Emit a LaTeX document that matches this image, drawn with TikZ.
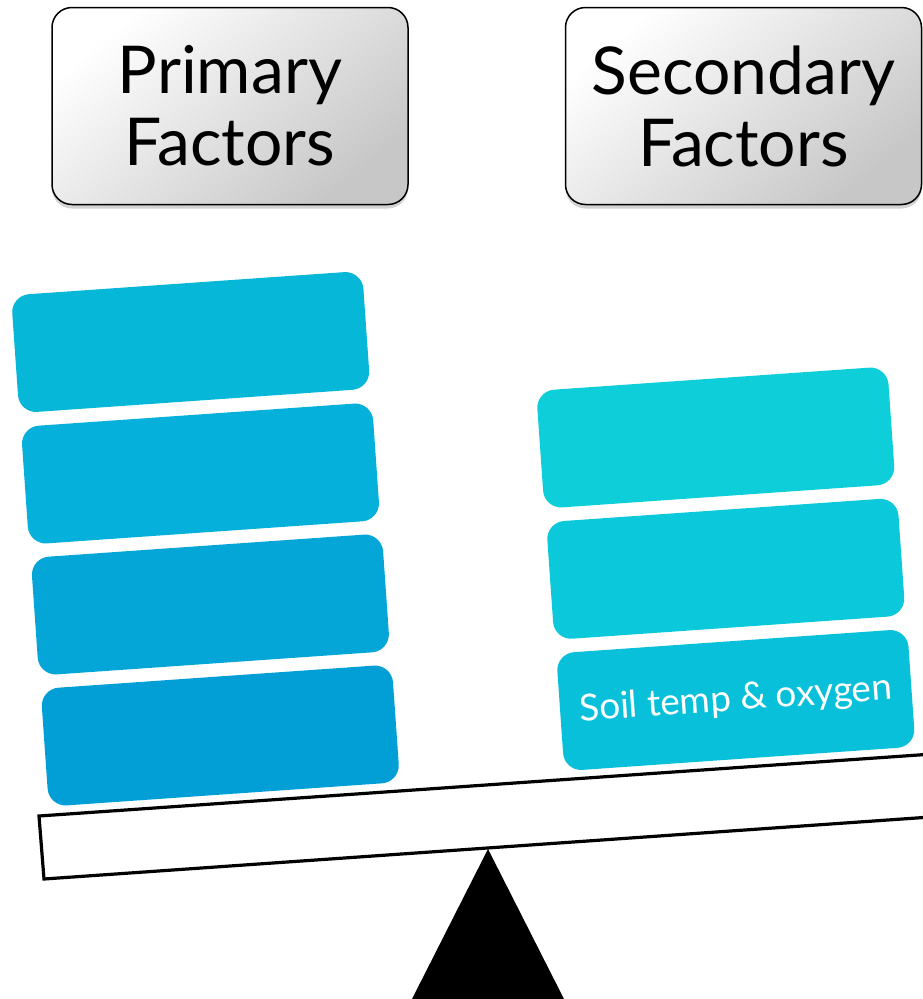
\documentclass[tikz,border=0pt]{standalone}
\usepackage{fontspec}
\setmainfont{Lato}
\usetikzlibrary{shadows}
\definecolor{bA}{HTML}{07B7D8}
\definecolor{bB}{HTML}{05B0DA}
\definecolor{bC}{HTML}{04A6D8}
\definecolor{bD}{HTML}{029ED6}
\definecolor{cA}{HTML}{0ECFD9}
\definecolor{cB}{HTML}{0BC8DB}
\definecolor{cC}{HTML}{09C0DA}
\tikzset{
  hdr/.style={draw=black, line width=1.5pt, rounded corners=20pt,
    top color=white, bottom color=black!22, shading angle=40,
    drop shadow={opacity=0.35, shadow xshift=0pt, shadow yshift=-4pt},
    minimum width=356pt, minimum height=197pt, align=center,
    font=\fontsize{66}{72}\selectfont, text=black, inner sep=0pt},
  blk/.style={rounded corners=18pt, rotate=4, minimum width=352pt,
    minimum height=118pt, inner sep=0pt, text=white,
    font=\fontsize{37}{40}\selectfont},
  beam/.style={draw=black, line width=3.2pt, fill=white, line join=miter}
}
\begin{document}
\begin{tikzpicture}[x=1pt,y=-1pt]
\useasboundingbox (0,0) rectangle (922,999);
% headers
\node[hdr] (prim) at (230,106) {Primary\\Factors};
\node[hdr] (sec) at (743.5,106) {Secondary\\Factors};
% left stack
\node[blk, fill=bA] (l1) at (190.7,342) {};
\node[blk, fill=bB] (l2) at (200.5,473.5) {};
\node[blk, fill=bC] (l3) at (210.4,604.5) {};
\node[blk, fill=bD] (l4) at (220.3,735.5) {};
% right stack
\node[blk, fill=cA] (r1) at (715.8,437.5) {};
\node[blk, fill=cB] (r2) at (725.8,568.8) {};
\node[blk, fill=cC] (r3) at (735.8,700) {Soil temp \& oxygen};
% fulcrum
\coordinate (apex) at (488,849);
\coordinate (bl) at (412,999);
\coordinate (br) at (564,999);
\fill[black] (apex) -- (br) -- (bl) -- cycle;
% beam
\coordinate (btl) at (39,816);
\coordinate (btr) at (940,753.5);
\coordinate (bbr) at (945,816);
\coordinate (bbl) at (44,879);
\draw[beam] (btl) -- (btr) -- (bbr) -- (bbl) -- cycle;
\end{tikzpicture}
\end{document}
